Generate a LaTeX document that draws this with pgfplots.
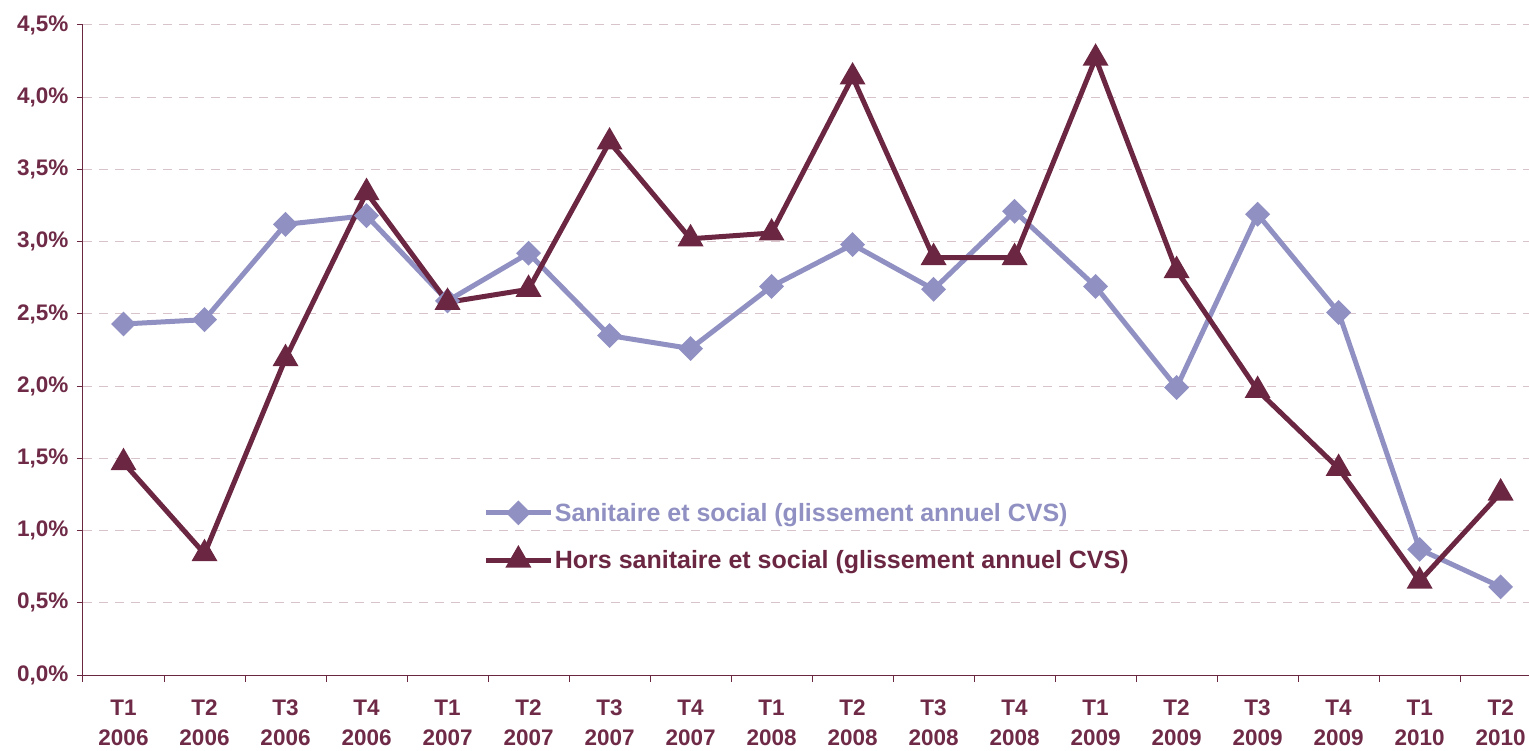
\documentclass[border=0pt]{standalone}
\usepackage{fontspec}
\setmainfont{Liberation Sans}
\usepackage{pgfplots}
\pgfplotsset{compat=1.18}
\definecolor{maroon}{HTML}{6B2642}
\definecolor{lav}{HTML}{9090C2}
\definecolor{gridc}{HTML}{D9C3CB}
\definecolor{txt}{HTML}{6E2A46}
\begin{document}
\begin{tikzpicture}
\begin{axis}[
  at={(0,0)}, anchor=south west,
  scale only axis, width=1446pt, height=650pt,
  xmin=-0.5, xmax=17.35, ymin=0, ymax=4.5,
  axis lines*=left,
  axis line style={color=maroon, line width=1pt},
  tick align=outside,
  major tick length=6pt, minor tick length=7pt,
  tick style={color=maroon, line width=1pt},
  major x tick style={draw=none},
  xtick={0,...,17},
  minor xtick={-0.5,0.5,...,16.5},
  xticklabels={{T1\\2006},{T2\\2006},{T3\\2006},{T4\\2006},{T1\\2007},{T2\\2007},{T3\\2007},{T4\\2007},{T1\\2008},{T2\\2008},{T3\\2008},{T4\\2008},{T1\\2009},{T2\\2009},{T3\\2009},{T4\\2009},{T1\\2010},{T2\\2010}},
  ytick={0,0.5,1,1.5,2,2.5,3,3.5,4,4.5},
  yticklabels={{0,0\%},{0,5\%},{1,0\%},{1,5\%},{2,0\%},{2,5\%},{3,0\%},{3,5\%},{4,0\%},{4,5\%}},
  tick label style={font=\fontsize{22.5}{30}\selectfont\bfseries, text=txt},
  xticklabel style={align=center, yshift=-15pt},
  yticklabel style={xshift=-5pt},
  ymajorgrids,
  major grid style={color=gridc, line width=1pt, dash pattern=on 9pt off 7pt},
  legend style={draw=none, fill=none, at={(axis cs:4.44,0.959)}, anchor=west,
    inner sep=0pt, row sep=24.5pt, font=\fontsize{25}{30}\selectfont\bfseries,
    nodes={inner sep=1.5pt}},
  legend cell align=left,
  legend image code/.code={\draw[mark repeat=2,mark phase=2,#1] plot coordinates {(0pt,0pt) (32.5pt,0pt) (65pt,0pt)};},
]
\addplot[color=lav, line width=5pt, mark=square*, mark size=6.3pt, mark options={rotate=45, solid}] coordinates {
(0,2.43) (1,2.46) (2,3.12) (3,3.18) (4,2.59) (5,2.92) (6,2.35) (7,2.26) (8,2.69) (9,2.98) (10,2.67) (11,3.21) (12,2.69) (13,1.99) (14,3.19) (15,2.51) (16,0.87) (17,0.61)};
\addlegendentry{\textcolor{lav}{Sanitaire et social (glissement annuel CVS)}}
\addplot[color=maroon, line width=5pt, mark=triangle*, mark size=10pt, mark options={solid}] coordinates {
(0,1.47) (1,0.84) (2,2.19) (3,3.34) (4,2.58) (5,2.67) (6,3.69) (7,3.02) (8,3.06) (9,4.14) (10,2.89) (11,2.89) (12,4.27) (13,2.80) (14,1.97) (15,1.43) (16,0.65) (17,1.26)};
\addlegendentry{\textcolor{maroon}{Hors sanitaire et social (glissement annuel CVS)}}
\end{axis}
\pgfresetboundingbox
\useasboundingbox (-83pt,-75pt) rectangle (1446pt,675pt);
\end{tikzpicture}
\end{document}
